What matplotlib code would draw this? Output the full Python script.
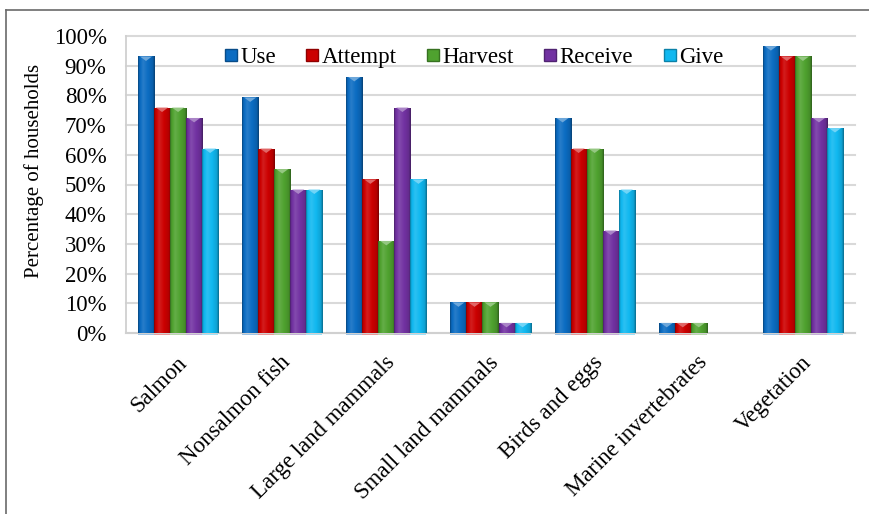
import numpy as np
import matplotlib
matplotlib.use("Agg")
import matplotlib.pyplot as plt
import matplotlib.transforms as mtransforms
from matplotlib.colors import to_rgb
from matplotlib.patches import Polygon
from matplotlib.lines import Line2D
from matplotlib.ticker import PercentFormatter

categories = ["Salmon", "Nonsalmon fish", "Large land mammals", "Small land mammals",
              "Birds and eggs", "Marine invertebrates", "Vegetation"]
series = ["Use", "Attempt", "Harvest", "Receive", "Give"]
use = [93.1, 79.3, 86.2, 10.3, 72.4, 3.4, 96.6]
attempt = [75.9, 62.1, 51.7, 10.3, 62.1, 3.4, 93.1]
harvest = [75.9, 55.2, 31.0, 10.3, 62.1, 3.4, 93.1]
receive = [72.4, 48.3, 75.9, 3.4, 34.5, 0.0, 72.4]
give = [62.1, 48.3, 51.7, 3.4, 48.3, 0.0, 69.0]
values = [use, attempt, harvest, receive, give]
colors = ["#0b6cc2", "#cc0000", "#4fa22f", "#7232a2", "#10b8f0"]
yticks = [0, 10, 20, 30, 40, 50, 60, 70, 80, 90, 100]

plt.rcParams["font.family"] = ["Liberation Serif", "DejaVu Serif"]

W, H = 870, 514
fig = plt.figure(figsize=(W / 100, H / 100), dpi=100)
ax = fig.add_axes([126 / W, 1 - 333 / H, (855 - 126) / W, (333 - 36) / H])

n = len(series)
bw = 0.154
x = np.arange(len(categories))


def shade(c, f):
    c = np.array(to_rgb(c))
    if f >= 0:
        return c + (1 - c) * f
    return c * (1 + f)


def gradient(c, steps=40):
    # darker edges, a lighter band left of centre: a rounded, glossy bar
    t = np.linspace(0, 1, steps)
    prof = np.interp(t, [0, 0.08, 0.3, 0.6, 0.88, 1.0],
                     [-0.35, -0.05, 0.12, 0.0, -0.12, -0.4])
    return np.array([shade(c, p) for p in prof])[None, :, :]


for i, (name, vals, col) in enumerate(zip(series, values, colors)):
    offs = (i - (n - 1) / 2) * bw
    bars = ax.bar(x + offs, vals, width=bw, color=col, label=name, zorder=2,
                  linewidth=0)
    for b in bars:
        h = b.get_height()
        if h <= 0:
            continue
        x0, w = b.get_x(), b.get_width()
        im = ax.imshow(gradient(col), extent=(x0, x0 + w, 0, h), aspect="auto",
                       zorder=3, interpolation="bilinear")
        im.set_clip_path(b)
        # bevel notch on the top face
        tri_h = min(1.5, h)
        tri = Polygon([(x0 + 0.12 * w, h), (x0 + 0.88 * w, h),
                       (x0 + 0.5 * w, h - tri_h)], closed=True,
                      facecolor=shade(col, 0.4), edgecolor="none", zorder=4)
        ax.add_patch(tri)
        # faint reflection below the baseline
        ax.bar(b.get_x() + w / 2, -0.6, width=w, color=shade(col, 0.6),
               zorder=1, linewidth=0, clip_on=False)

ax.set_xlim(-0.5, len(categories) - 0.5)
ax.set_ylim(0, 100)
ax.set_yticks(yticks)
ax.yaxis.set_major_formatter(PercentFormatter(100, decimals=0))
ax.set_xticks(x)
ax.set_xticklabels([])

# slanted category names under each group
lbl_trans = (ax.get_xaxis_transform()
             + mtransforms.ScaledTranslation(-2 / 100, -19 / 100, fig.dpi_scale_trans))
for xi, cat in zip(x, categories):
    ax.text(xi, 0, cat, transform=lbl_trans, rotation=45, ha="right", va="top",
            rotation_mode="anchor", fontsize=16.5)

ax.tick_params(axis="y", labelsize=16.5, length=0, pad=14)
ax.tick_params(axis="x", length=0)
ax.grid(axis="y", color="#d9d9d9", linewidth=1.5, zorder=0, clip_on=False)
ax.set_axisbelow(True)
for s in ["top", "right"]:
    ax.spines[s].set_visible(False)
ax.spines["left"].set_color("#d0d0d0")
ax.spines["left"].set_linewidth(1.3)
ax.spines["bottom"].set_color("#d0d0d0")
ax.spines["bottom"].set_linewidth(1.5)
ax.set_ylabel("Percentage of households", fontsize=15)
ax.yaxis.set_label_coords(-0.113, 0.545)

handles = [Line2D([], [], marker="s", linestyle="none", markersize=9,
                  markerfacecolor=c, markeredgecolor=shade(c, -0.3))
           for c in colors]
ax.legend(handles, series, loc="upper center", bbox_to_anchor=(0.476, 1.008),
          ncol=5, frameon=False, fontsize=16.5, handletextpad=0.05,
          columnspacing=1.25, handlelength=0.7, borderaxespad=0.2)

# outer frame lines of the figure
fig.add_artist(Line2D([6 / W, 1], [1 - 10 / H, 1 - 10 / H], color="#6a6a6a",
                      linewidth=1.2, transform=fig.transFigure))
fig.add_artist(Line2D([6 / W, 6 / W], [0, 1 - 10 / H], color="#6a6a6a",
                      linewidth=1.2, transform=fig.transFigure))

fig.savefig("out.png", dpi=100)
